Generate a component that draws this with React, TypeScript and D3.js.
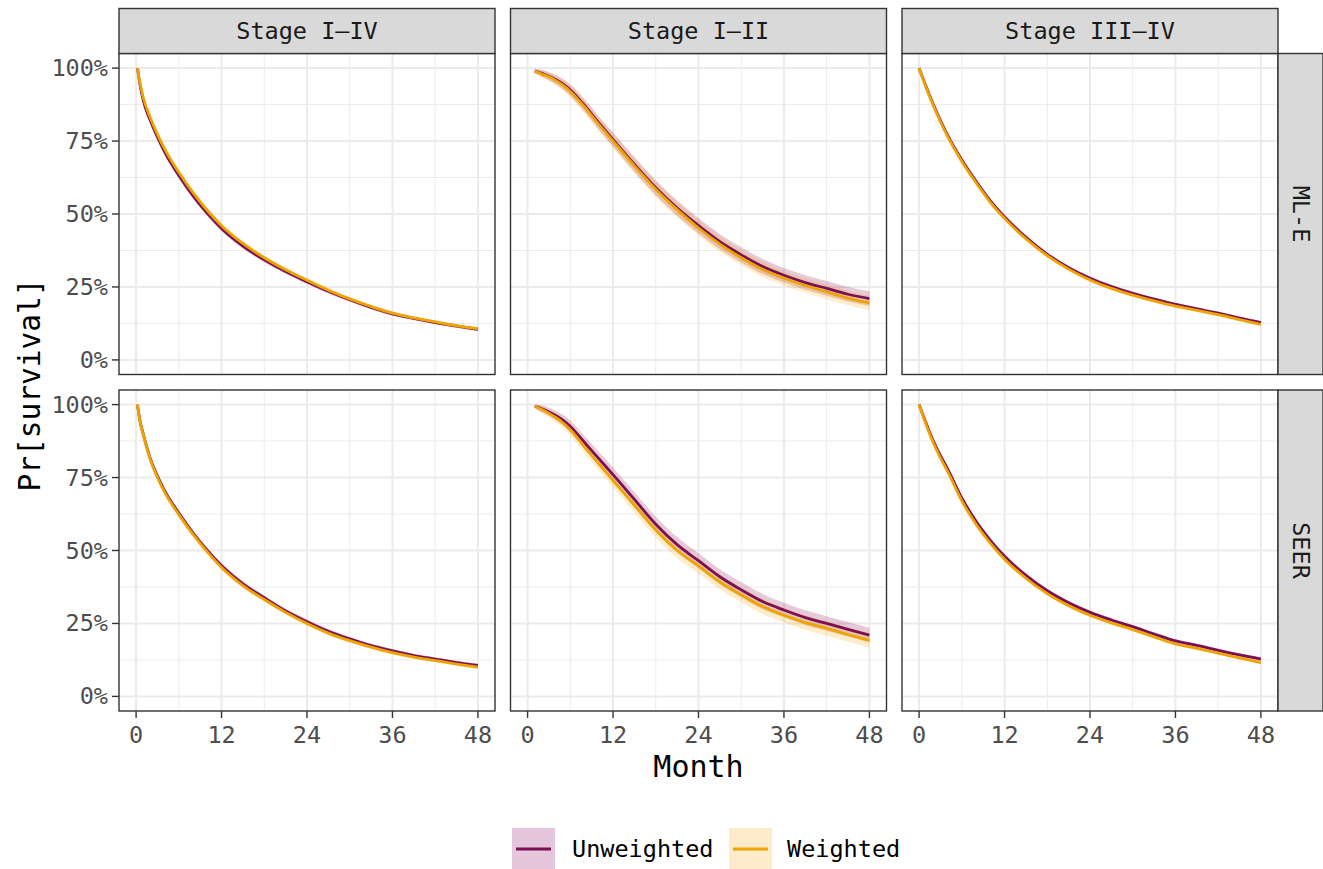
import React, { useEffect } from "react";
import * as d3 from "d3";

// ---------- data ----------
const rowLabels = ["ML-E", "SEER"];
const colLabels = ["Stage I–IV", "Stage I–II", "Stage III–IV"];
const seriesLabels = ["Unweighted", "Weighted"];
const xTicks = [0, 12, 24, 36, 48];
const yTicks = [0, 0.25, 0.5, 0.75, 1];
const yTickLabels = ["0%", "25%", "50%", "75%", "100%"];

const monthsI_IV = [0.2, 0.5, 1, 2, 3, 4, 6, 8, 10, 12, 15, 18, 21, 24, 27, 30, 33, 36, 39, 42, 45, 48];
const monthsI_II = [1, 2, 3, 4, 5, 6, 8, 10, 12, 15, 18, 21, 24, 27, 30, 33, 36, 39, 42, 45, 48];
const monthsIII_IV = [0, 1, 2, 3, 4, 6, 8, 10, 12, 15, 18, 21, 24, 27, 30, 33, 36, 39, 42, 45, 48];

// ML-E
const mleI_IV_unw = [1.0, 0.95, 0.89, 0.82, 0.763, 0.713, 0.632, 0.562, 0.502, 0.45, 0.39, 0.343, 0.303, 0.268, 0.235, 0.206, 0.18, 0.158, 0.142, 0.128, 0.116, 0.105];
const mleI_IV_w = [1.0, 0.955, 0.9, 0.83, 0.773, 0.723, 0.643, 0.573, 0.512, 0.46, 0.399, 0.35, 0.309, 0.273, 0.239, 0.209, 0.183, 0.16, 0.144, 0.13, 0.117, 0.107];
const mleI_II_unw = [0.99, 0.982, 0.972, 0.96, 0.945, 0.925, 0.872, 0.812, 0.755, 0.67, 0.59, 0.52, 0.46, 0.405, 0.36, 0.32, 0.29, 0.265, 0.245, 0.225, 0.21];
const mleI_II_w = [0.99, 0.98, 0.97, 0.957, 0.941, 0.92, 0.867, 0.807, 0.75, 0.665, 0.585, 0.515, 0.452, 0.397, 0.35, 0.31, 0.28, 0.255, 0.233, 0.212, 0.195];
const mleIII_IV_unw = [1.0, 0.935, 0.875, 0.82, 0.77, 0.685, 0.612, 0.545, 0.49, 0.42, 0.362, 0.316, 0.28, 0.251, 0.228, 0.208, 0.19, 0.175, 0.16, 0.143, 0.128];
const mleIII_IV_w = [1.0, 0.932, 0.872, 0.816, 0.766, 0.68, 0.607, 0.54, 0.485, 0.415, 0.357, 0.311, 0.274, 0.245, 0.222, 0.202, 0.184, 0.17, 0.155, 0.138, 0.122];

// SEER
const seerI_IV_unw = [1.0, 0.95, 0.9, 0.815, 0.755, 0.705, 0.628, 0.56, 0.5, 0.448, 0.386, 0.338, 0.293, 0.256, 0.223, 0.197, 0.174, 0.156, 0.14, 0.128, 0.116, 0.106];
const seerI_IV_w = [1.0, 0.948, 0.897, 0.811, 0.75, 0.7, 0.623, 0.555, 0.495, 0.442, 0.38, 0.332, 0.288, 0.25, 0.217, 0.191, 0.169, 0.15, 0.135, 0.123, 0.111, 0.1];
const seerI_II_unw = [0.995, 0.986, 0.975, 0.962, 0.946, 0.925, 0.87, 0.815, 0.76, 0.675, 0.59, 0.52, 0.465, 0.41, 0.365, 0.325, 0.296, 0.27, 0.25, 0.23, 0.21];
const seerI_II_w = [0.995, 0.983, 0.97, 0.955, 0.937, 0.914, 0.855, 0.797, 0.74, 0.655, 0.57, 0.5, 0.447, 0.392, 0.348, 0.308, 0.278, 0.253, 0.233, 0.212, 0.192];
const seerIII_IV_unw = [1.0, 0.935, 0.875, 0.825, 0.78, 0.68, 0.6, 0.535, 0.48, 0.415, 0.362, 0.321, 0.288, 0.262, 0.239, 0.214, 0.19, 0.175, 0.158, 0.142, 0.128];
const seerIII_IV_w = [1.0, 0.93, 0.869, 0.817, 0.771, 0.67, 0.59, 0.525, 0.47, 0.405, 0.352, 0.311, 0.278, 0.252, 0.229, 0.204, 0.18, 0.165, 0.148, 0.132, 0.116];

// confidence-band half widths
const ciI_IV = [0.0, 0.006, 0.008, 0.009, 0.009, 0.009, 0.009, 0.009, 0.009, 0.009, 0.009, 0.008, 0.008, 0.008, 0.008, 0.007, 0.007, 0.007, 0.006, 0.006, 0.006, 0.006];
const ciI_II = [0.008, 0.012, 0.014, 0.016, 0.018, 0.02, 0.022, 0.023, 0.024, 0.025, 0.026, 0.026, 0.026, 0.026, 0.026, 0.026, 0.025, 0.025, 0.025, 0.025, 0.025];
const ciIII_IV = [0.0, 0.006, 0.007, 0.008, 0.008, 0.008, 0.008, 0.008, 0.008, 0.008, 0.007, 0.007, 0.007, 0.007, 0.006, 0.006, 0.006, 0.006, 0.006, 0.006, 0.006];

const monthsByCol = [monthsI_IV, monthsI_II, monthsIII_IV];
const ciByCol = [ciI_IV, ciI_II, ciIII_IV];
const valuesGrid = [
  [[mleI_IV_unw, mleI_IV_w], [mleI_II_unw, mleI_II_w], [mleIII_IV_unw, mleIII_IV_w]],
  [[seerI_IV_unw, seerI_IV_w], [seerI_II_unw, seerI_II_w], [seerIII_IV_unw, seerIII_IV_w]],
];

// ---------- styling / layout ----------
const W = 1323;
const H = 869;
const FONT = "'DejaVu Sans Mono', monospace";
const lineColors = ["#7B1153", "#EFA300"];
const bandColors = ["#9C2A6C", "#F5A700"];
const bandOpacity = [0.25, 0.2];
const keyFills = ["#e5c6dc", "#fdebc9"];

const colX = [119, 510.5, 902];
const panelW = 376;
const rowY = [53.5, 390];
const panelH = 321;
const stripTop = 8.5;
const stripRight = 45;

export default function App() {
  useEffect(() => {
    document.body.style.margin = "0";
  }, []);

  const xScale = (c: number) =>
    d3.scaleLinear().domain([-2.4, 50.4]).range([colX[c], colX[c] + panelW]);
  const yScale = (r: number) =>
    d3.scaleLinear().domain([-0.05, 1.05]).range([rowY[r] + panelH, rowY[r]]);

  const xMinor = [6, 18, 30, 42];
  const yMinor = [0.125, 0.375, 0.625, 0.875];

  const panels: React.ReactNode[] = [];
  rowLabels.forEach((rl, r) => {
    colLabels.forEach((cl, c) => {
      const xs = xScale(c);
      const ys = yScale(r);
      const months = monthsByCol[c];
      const ci = ciByCol[c];
      const x0 = colX[c];
      const y0 = rowY[r];
      const series = valuesGrid[r][c];
      const idx = months.map((_, i) => i);
      const area = (vals: number[]) =>
        d3
          .area<number>()
          .x((i) => xs(months[i]))
          .y0((i) => ys(Math.max(0, vals[i] - ci[i])))
          .y1((i) => ys(Math.min(1, vals[i] + ci[i])))
          .curve(d3.curveMonotoneX)(idx) as string;
      const line = (vals: number[]) =>
        d3
          .line<number>()
          .x((i) => xs(months[i]))
          .y((i) => ys(vals[i]))
          .curve(d3.curveMonotoneX)(idx) as string;
      panels.push(
        <g key={`p-${r}-${c}`}>
          <rect x={x0} y={y0} width={panelW} height={panelH} fill="#ffffff" />
          {xMinor.map((t) => (
            <line key={`xm${t}`} x1={xs(t)} x2={xs(t)} y1={y0} y2={y0 + panelH} stroke="#ebebeb" strokeWidth={1} />
          ))}
          {yMinor.map((t) => (
            <line key={`ym${t}`} x1={x0} x2={x0 + panelW} y1={ys(t)} y2={ys(t)} stroke="#ebebeb" strokeWidth={1} />
          ))}
          {xTicks.map((t) => (
            <line key={`xM${t}`} x1={xs(t)} x2={xs(t)} y1={y0} y2={y0 + panelH} stroke="#ebebeb" strokeWidth={2} />
          ))}
          {yTicks.map((t) => (
            <line key={`yM${t}`} x1={x0} x2={x0 + panelW} y1={ys(t)} y2={ys(t)} stroke="#ebebeb" strokeWidth={2} />
          ))}
          {series.map((vals, s) => (
            <path key={`b${s}`} d={area(vals)} fill={bandColors[s]} fillOpacity={bandOpacity[s]} stroke="none" />
          ))}
          {series.map((vals, s) => (
            <path key={`l${s}`} d={line(vals)} fill="none" stroke={lineColors[s]} strokeWidth={2.8} strokeLinejoin="round" />
          ))}
          <rect x={x0} y={y0} width={panelW} height={panelH} fill="none" stroke="#333333" strokeWidth={1.4} />
          {c === 0 &&
            yTicks.map((t, i) => (
              <g key={`yt${t}`}>
                <line x1={x0 - 7} x2={x0} y1={ys(t)} y2={ys(t)} stroke="#333333" strokeWidth={1.4} />
                <text x={x0 - 11} y={ys(t)} textAnchor="end" dominantBaseline="central" fontFamily={FONT} fontSize={23.5} fill="#4d4d4d">
                  {yTickLabels[i]}
                </text>
              </g>
            ))}
          {r === 1 &&
            xTicks.map((t) => (
              <g key={`xt${t}`}>
                <line x1={xs(t)} x2={xs(t)} y1={y0 + panelH} y2={y0 + panelH + 7} stroke="#333333" strokeWidth={1.4} />
                <text x={xs(t)} y={y0 + panelH + 24} textAnchor="middle" dominantBaseline="central" fontFamily={FONT} fontSize={23.5} fill="#4d4d4d">
                  {t}
                </text>
              </g>
            ))}
          {r === 0 && (
            <g>
              <rect x={x0} y={stripTop} width={panelW} height={y0 - stripTop} fill="#d9d9d9" stroke="#333333" strokeWidth={1.4} />
              <text x={x0 + panelW / 2} y={(stripTop + y0) / 2} textAnchor="middle" dominantBaseline="central" fontFamily={FONT} fontSize={23.5} fill="#1a1a1a">
                {cl}
              </text>
            </g>
          )}
          {c === 2 && (
            <g>
              <rect x={x0 + panelW} y={y0} width={stripRight} height={panelH} fill="#d9d9d9" stroke="#333333" strokeWidth={1.4} />
              <text
                transform={`translate(${x0 + panelW + stripRight / 2},${y0 + panelH / 2}) rotate(90)`}
                textAnchor="middle"
                dominantBaseline="central"
                fontFamily={FONT}
                fontSize={23.5}
                fill="#1a1a1a"
              >
                {rl}
              </text>
            </g>
          )}
        </g>
      );
    });
  });

  const keyX = [512, 729];
  const textX = [572, 787];
  const legendY = 849;

  return (
    <svg width={W} height={H} viewBox={`0 0 ${W} ${H}`} style={{ display: "block", background: "#ffffff" }}>
      <rect x={0} y={0} width={W} height={H} fill="#ffffff" />
      {panels}
      <text x={(colX[0] + colX[2] + panelW) / 2} y={766} textAnchor="middle" dominantBaseline="central" fontFamily={FONT} fontSize={30} fill="#000000">
        Month
      </text>
      <text transform={`translate(30,385) rotate(-90)`} textAnchor="middle" dominantBaseline="central" fontFamily={FONT} fontSize={29.5} fill="#000000">
        Pr[survival]
      </text>
      {seriesLabels.map((lab, s) => (
        <g key={lab}>
          <rect x={keyX[s]} y={legendY - 21} width={43} height={43} fill={keyFills[s]} />
          <line x1={keyX[s] + 4} x2={keyX[s] + 39} y1={legendY} y2={legendY} stroke={lineColors[s]} strokeWidth={2.8} />
          <text x={textX[s]} y={legendY} dominantBaseline="central" fontFamily={FONT} fontSize={23.5} fill="#000000">
            {lab}
          </text>
        </g>
      ))}
    </svg>
  );
}
